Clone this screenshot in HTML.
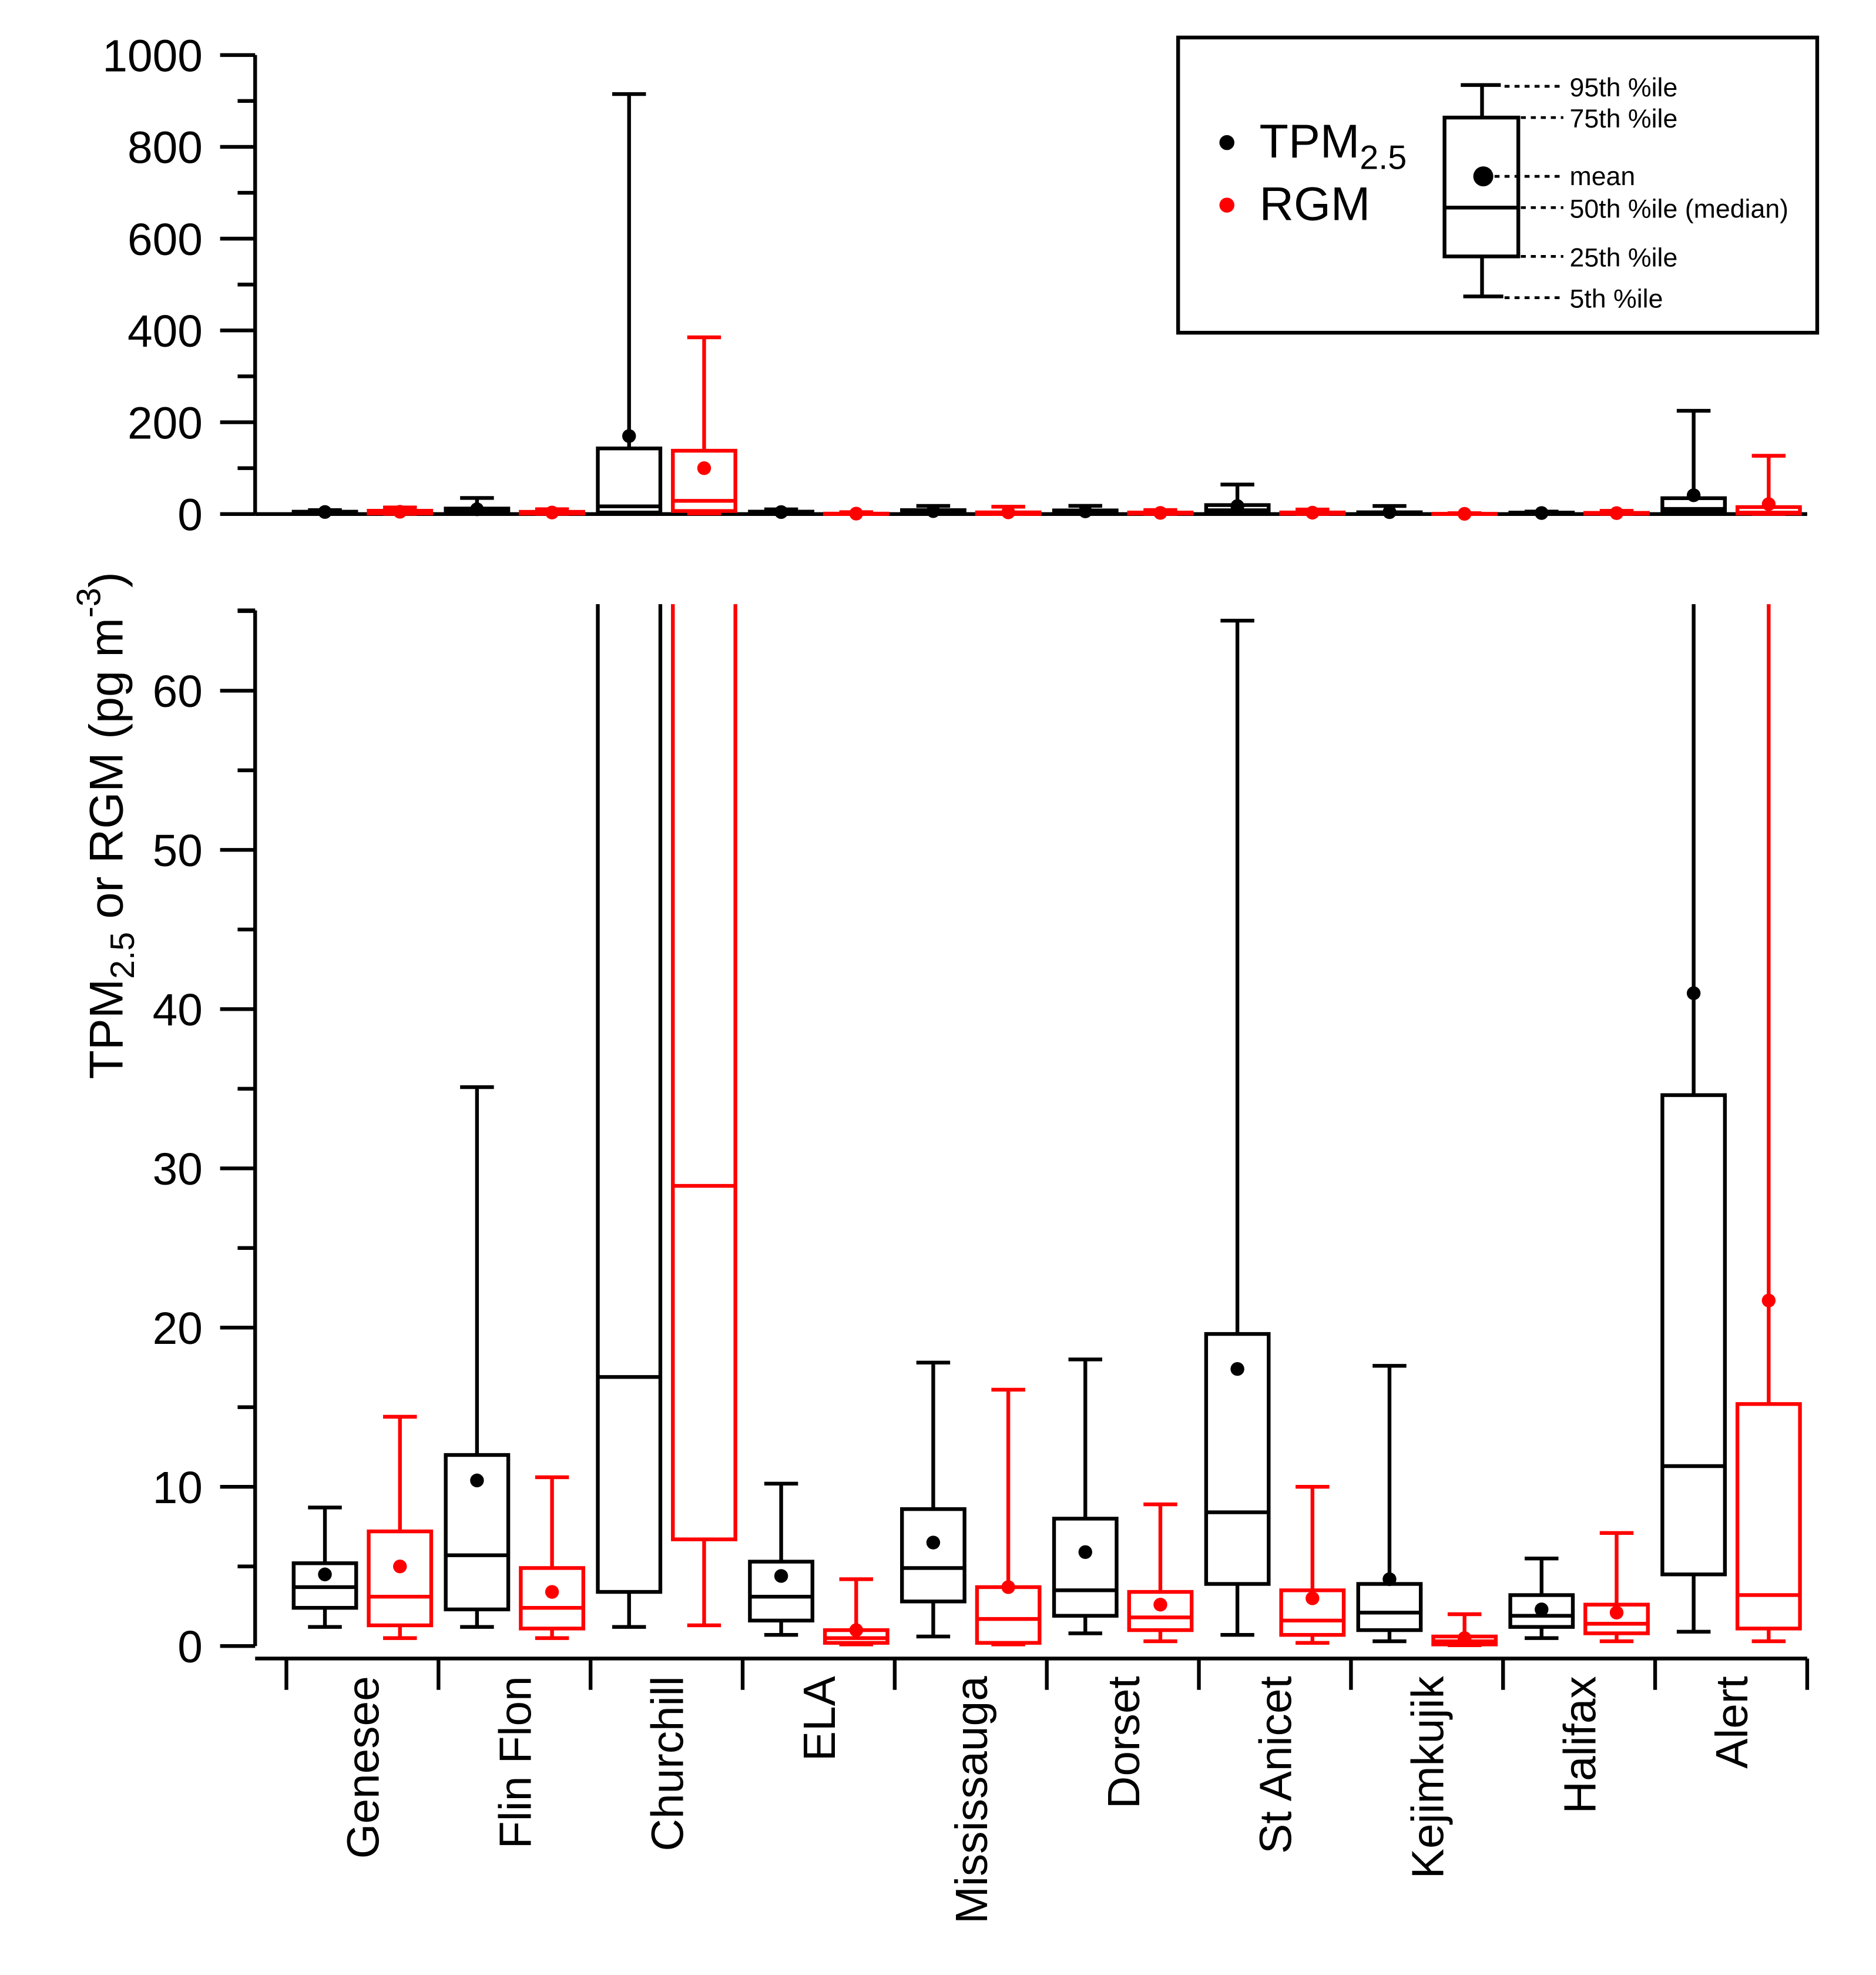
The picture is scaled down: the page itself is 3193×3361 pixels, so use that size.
<!DOCTYPE html>
<html><head><meta charset="utf-8">
<style>
html,body{margin:0;padding:0;background:#fff;}
svg{display:block;font-family:"Liberation Sans",Arial,sans-serif;}
</style></head>
<body>
<svg id="chart" width="3193" height="3361" viewBox="0 0 1500 1579" preserveAspectRatio="none" xmlns="http://www.w3.org/2000/svg">
<defs><clipPath id="clipB"><rect x="204" y="483" width="1245" height="845"/></clipPath></defs>
<g id="axes"></g>
<g id="marksTop"></g>
<g id="marksBot" clip-path="url(#clipB)"></g>
<text transform="translate(98,660) rotate(-90)" text-anchor="middle" font-size="38">TPM<tspan font-size="27" dy="9">2.5</tspan><tspan dy="-9"> or RGM (pg m</tspan><tspan font-size="27" dy="-18">-3</tspan><tspan dy="18">)</tspan></text>
<g>
<rect x="942" y="30" width="511" height="236" fill="none" stroke="#000" stroke-width="3"/>
<circle cx="981" cy="114" r="6" fill="#000"/>
<text x="1007" y="126" font-size="38">TPM<tspan font-size="27" dy="9">2.5</tspan></text>
<circle cx="981" cy="164" r="6" fill="#f00"/>
<text x="1007" y="176" font-size="38">RGM</text>
<g stroke="#000" stroke-width="3" fill="none">
<rect x="1155" y="94" width="59" height="111"/>
<line x1="1155" y1="166" x2="1214" y2="166"/>
<line x1="1185" y1="68" x2="1185" y2="94"/><line x1="1168" y1="68" x2="1200" y2="68"/>
<line x1="1185" y1="205" x2="1185" y2="237"/><line x1="1170" y1="237" x2="1202" y2="237"/>
<g stroke-dasharray="4,4" stroke-width="2.2">
<line x1="1203" y1="69" x2="1250" y2="69"/><line x1="1216" y1="94" x2="1250" y2="94"/>
<line x1="1195" y1="141" x2="1250" y2="141"/><line x1="1216" y1="166" x2="1250" y2="166"/>
<line x1="1216" y1="205" x2="1250" y2="205"/><line x1="1203" y1="238" x2="1250" y2="238"/>
</g></g>
<circle cx="1186" cy="141" r="8" fill="#000"/>
<g font-size="21" fill="#000">
<text x="1255" y="77">95th %ile</text><text x="1255" y="102">75th %ile</text>
<text x="1255" y="148">mean</text><text x="1255" y="174">50th %ile (median)</text>
<text x="1255" y="213">25th %ile</text><text x="1255" y="246">5th %ile</text>
</g></g>
</svg>
<script>
const categories=["Genesee","Flin Flon","Churchill","ELA","Mississauga","Dorset","St Anicet","Kejimkujik","Halifax","Alert"];
const tpmP5=[1.2,1.2,1.2,0.7,0.6,0.8,0.7,0.3,0.5,0.9];
const tpmP25=[2.4,2.3,3.4,1.6,2.8,1.9,3.9,1.0,1.2,4.5];
const tpmMed=[3.7,5.7,16.9,3.1,4.9,3.5,8.4,2.1,1.9,11.3];
const tpmP75=[5.2,12.0,143,5.3,8.6,8.0,19.6,3.9,3.2,34.6];
const tpmP95=[8.7,35.1,915,10.2,17.8,18.0,64.4,17.6,5.5,225];
const tpmMean=[4.5,10.4,170,4.4,6.5,5.9,17.4,4.2,2.3,41];
const rgmP5=[0.5,0.5,1.3,0.1,0.1,0.3,0.2,0.05,0.3,0.3];
const rgmP25=[1.3,1.1,6.7,0.2,0.2,1.0,0.7,0.1,0.8,1.1];
const rgmMed=[3.1,2.4,28.9,0.5,1.7,1.8,1.6,0.3,1.4,3.2];
const rgmP75=[7.2,4.9,138,1.0,3.7,3.4,3.5,0.6,2.6,15.2];
const rgmP95=[14.4,10.6,385,4.2,16.1,8.9,10.0,2.0,7.1,127];
const rgmMean=[5.0,3.4,100,1.0,3.7,2.6,3.0,0.5,2.1,21.7];
const topTicks=[0,200,400,600,800,1000];
const botTicks=[0,10,20,30,40,50,60];

const NS="http://www.w3.org/2000/svg";
function mk(tag,attrs,parent){const e=document.createElementNS(NS,tag);for(const k in attrs)e.setAttribute(k,attrs[k]);parent.appendChild(e);return e;}
const axes=document.getElementById('axes');
const AX=204,X0=229,XW=121.6,SW=3;
const yTop=v=>411-v*0.367;
const yBot=v=>1316-v*12.73;
const xc=i=>X0+XW*(i+0.5);

let l=mk('line',{x1:AX,y1:yTop(1000),x2:AX,y2:yTop(0),stroke:'#000','stroke-width':SW},axes);


l=mk('line',{x1:AX,y1:411,x2:1445,y2:411,stroke:'#000','stroke-width':SW},axes);


for(let v=0;v<=1000;v+=100){
  const major=v%200===0;
  mk('line',{x1:AX-(major?28:14),y1:yTop(v),x2:AX,y2:yTop(v),stroke:'#000','stroke-width':SW},axes);
}
topTicks.forEach(v=>{
  const t=mk('text',{x:162,y:yTop(v)+13,'text-anchor':'end','font-size':36},axes);
  t.textContent=v;
  
  
});
l=mk('line',{x1:AX,y1:488,x2:AX,y2:yBot(0),stroke:'#000','stroke-width':SW},axes);


l=mk('line',{x1:AX,y1:1326,x2:1445,y2:1326,stroke:'#000','stroke-width':SW},axes);


for(let v=0;v<=65;v+=5){
  const major=v%10===0;
  mk('line',{x1:AX-(major?28:14),y1:yBot(v),x2:AX,y2:yBot(v),stroke:'#000','stroke-width':SW},axes);
}
mk('line',{x1:AX-14,y1:488,x2:AX,y2:488,stroke:'#000','stroke-width':SW},axes);
botTicks.forEach(v=>{
  const t=mk('text',{x:162,y:yBot(v)+13,'text-anchor':'end','font-size':36},axes);
  t.textContent=v;
  
  
});
for(let i=0;i<=categories.length;i++){
  mk('line',{x1:X0+XW*i,y1:1326,x2:X0+XW*i,y2:1351,stroke:'#000','stroke-width':SW},axes);
}
categories.forEach((c,i)=>{
  const t=mk('text',{transform:`translate(${xc(i)+13},1340) rotate(-90)`,'text-anchor':'end','font-size':36},axes);
  t.textContent=c;
  
  
});

function drawBox(g,x,ys,color,vals,name){
  const [p5,p25,med,p75,p95,mean]=vals.map(ys);
  const grp=mk('g',{stroke:color,'stroke-width':SW,fill:'none'},g);
  
  
  const w=25,cw=13.5;
  mk('rect',{x:x-w,y:p75,width:2*w,height:Math.max(0,p25-p75)},grp);
  mk('line',{x1:x-w,y1:med,x2:x+w,y2:med},grp);
  mk('line',{x1:x,y1:p95,x2:x,y2:p75},grp);
  mk('line',{x1:x-cw,y1:p95,x2:x+cw,y2:p95},grp);
  mk('line',{x1:x,y1:p25,x2:x,y2:p5},grp);
  mk('line',{x1:x-cw,y1:p5,x2:x+cw,y2:p5},grp);
  mk('circle',{cx:x,cy:mean,r:5.5,fill:color,stroke:'none'},grp);
}
const gT=document.getElementById('marksTop'),gB=document.getElementById('marksBot');
categories.forEach((c,i)=>{
  const tv=[tpmP5[i],tpmP25[i],tpmMed[i],tpmP75[i],tpmP95[i],tpmMean[i]];
  const rv=[rgmP5[i],rgmP25[i],rgmMed[i],rgmP75[i],rgmP95[i],rgmMean[i]];
  drawBox(gT,xc(i)-30,yTop,'#000',tv,'top-tpm-box');
  drawBox(gT,xc(i)+30,yTop,'#f00',rv,'top-rgm-box');
  drawBox(gB,xc(i)-30,yBot,'#000',tv,'tpm-box');
  drawBox(gB,xc(i)+30,yBot,'#f00',rv,'rgm-box');
});
</script>
</body></html>
